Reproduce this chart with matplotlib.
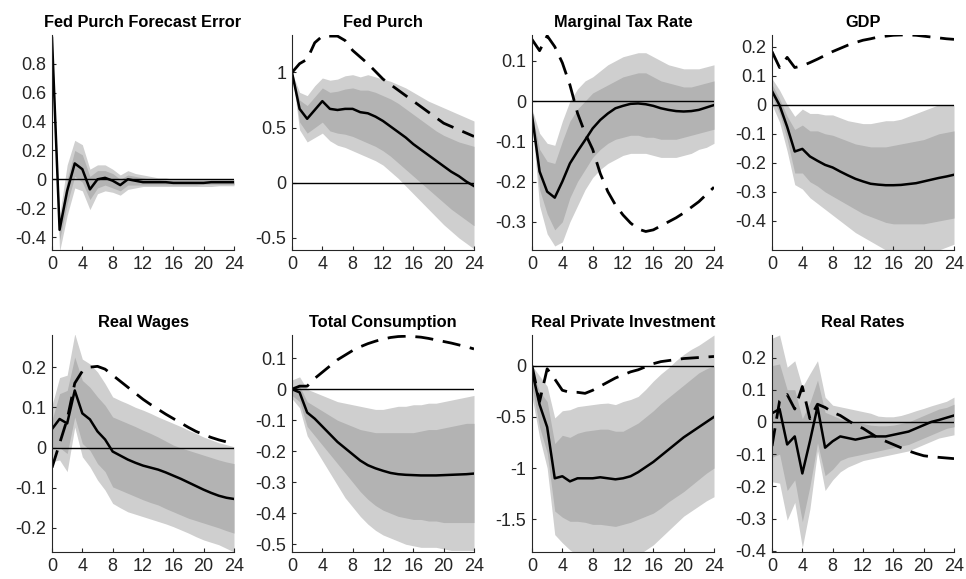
import numpy as np
import matplotlib
matplotlib.use("Agg")
import matplotlib.pyplot as plt
from matplotlib.ticker import FuncFormatter

plt.rcParams['font.family'] = ['Liberation Sans', 'DejaVu Sans']
plt.rcParams['axes.unicode_minus'] = False

horizon = list(range(25))
xticks = [0, 4, 8, 12, 16, 20, 24]

# Fed Purch Forecast Error
fe_med = [0.98, -0.35, -0.08, 0.11, 0.07, -0.07, 0.0, 0.01, -0.01, -0.04, 0.0, -0.01, -0.02,
          -0.02, -0.02, -0.02, -0.025, -0.025, -0.025, -0.025, -0.025, -0.02, -0.02, -0.02, -0.02]
fe_out_hi = [0.98, -0.25, 0.1, 0.27, 0.24, 0.07, 0.1, 0.1, 0.07, 0.03, 0.06, 0.04, 0.03,
             0.02, 0.01, 0.01, 0.0, 0.0, 0.0, 0.0, 0.0, 0.0, 0.0, 0.0, 0.0]
fe_in_hi = [0.98, -0.3, 0.0, 0.2, 0.17, 0.02, 0.06, 0.06, 0.04, 0.0, 0.03, 0.02, 0.01,
            0.0, 0.0, -0.01, -0.01, -0.01, -0.01, -0.01, -0.01, -0.01, -0.01, -0.01, -0.01]
fe_in_lo = [0.98, -0.42, -0.17, 0.02, -0.02, -0.14, -0.06, -0.04, -0.06, -0.08, -0.04, -0.04, -0.04,
            -0.04, -0.04, -0.04, -0.04, -0.04, -0.04, -0.04, -0.035, -0.035, -0.035, -0.035, -0.035]
fe_out_lo = [0.98, -0.5, -0.25, -0.06, -0.08, -0.21, -0.1, -0.08, -0.09, -0.11, -0.07, -0.06, -0.05,
             -0.05, -0.05, -0.05, -0.05, -0.05, -0.05, -0.05, -0.05, -0.05, -0.045, -0.045, -0.045]

# Fed Purch
g_med = [1.0, 0.67, 0.58, 0.66, 0.74, 0.67, 0.66, 0.67, 0.67, 0.64, 0.63, 0.60, 0.56,
         0.51, 0.46, 0.41, 0.35, 0.30, 0.25, 0.20, 0.15, 0.10, 0.06, 0.01, -0.03]
g_out_hi = [1.0, 0.82, 0.79, 0.88, 0.95, 0.93, 0.94, 0.97, 0.98, 0.96, 0.98, 0.96, 0.94,
            0.92, 0.89, 0.86, 0.82, 0.78, 0.74, 0.71, 0.68, 0.65, 0.62, 0.59, 0.56]
g_in_hi = [1.0, 0.75, 0.70, 0.78, 0.86, 0.82, 0.83, 0.85, 0.86, 0.84, 0.84, 0.82, 0.79,
           0.76, 0.72, 0.67, 0.62, 0.57, 0.52, 0.47, 0.43, 0.40, 0.37, 0.35, 0.33]
g_in_lo = [1.0, 0.55, 0.45, 0.50, 0.55, 0.47, 0.45, 0.44, 0.42, 0.39, 0.36, 0.33, 0.29,
           0.24, 0.18, 0.12, 0.06, 0.0, -0.06, -0.12, -0.18, -0.24, -0.29, -0.34, -0.39]
g_out_lo = [1.0, 0.48, 0.37, 0.41, 0.45, 0.38, 0.34, 0.32, 0.29, 0.26, 0.23, 0.20, 0.16,
            0.10, 0.04, -0.03, -0.10, -0.17, -0.24, -0.31, -0.38, -0.44, -0.50, -0.55, -0.60]
g_dash = [1.0, 1.08, 1.12, 1.27, 1.33, 1.33, 1.33, 1.29, 1.20, 1.14, 1.08, 1.01, 0.94,
          0.89, 0.84, 0.79, 0.74, 0.69, 0.64, 0.59, 0.54, 0.51, 0.48, 0.45, 0.42]

# Marginal Tax Rate
tax_med = [-0.035, -0.175, -0.225, -0.24, -0.20, -0.155, -0.125, -0.097, -0.068, -0.047, -0.031, -0.018, -0.012,
           -0.007, -0.006, -0.008, -0.012, -0.018, -0.022, -0.025, -0.026, -0.025, -0.022, -0.016, -0.01]
tax_out_hi = [-0.02, -0.08, -0.105, -0.11, -0.05, 0.0, 0.03, 0.05, 0.06, 0.075, 0.09, 0.10, 0.11,
              0.115, 0.12, 0.12, 0.11, 0.10, 0.09, 0.085, 0.08, 0.08, 0.08, 0.085, 0.09]
tax_in_hi = [-0.03, -0.12, -0.15, -0.155, -0.10, -0.05, -0.02, 0.0, 0.02, 0.03, 0.04, 0.05, 0.06,
             0.065, 0.07, 0.07, 0.06, 0.05, 0.045, 0.04, 0.035, 0.035, 0.04, 0.045, 0.05]
tax_in_lo = [-0.045, -0.22, -0.28, -0.32, -0.30, -0.24, -0.20, -0.17, -0.14, -0.12, -0.105, -0.095, -0.09,
             -0.085, -0.085, -0.09, -0.09, -0.095, -0.095, -0.095, -0.09, -0.085, -0.08, -0.075, -0.07]
tax_out_lo = [-0.05, -0.26, -0.33, -0.36, -0.35, -0.30, -0.26, -0.22, -0.19, -0.17, -0.155, -0.145, -0.135,
              -0.13, -0.13, -0.13, -0.135, -0.14, -0.14, -0.14, -0.135, -0.13, -0.12, -0.115, -0.105]
tax_dash = [0.153, 0.125, 0.162, 0.135, 0.095, 0.04, -0.03, -0.08, -0.12, -0.18, -0.225, -0.258, -0.283,
            -0.303, -0.318, -0.324, -0.32, -0.31, -0.3, -0.29, -0.278, -0.264, -0.25, -0.232, -0.214]

# GDP
gdp_med = [0.047, -0.002, -0.076, -0.161, -0.152, -0.178, -0.193, -0.207, -0.216, -0.23, -0.243, -0.255, -0.264,
           -0.272, -0.275, -0.277, -0.277, -0.276, -0.273, -0.27, -0.264, -0.258, -0.252, -0.247, -0.241]
gdp_out_hi = [0.09, 0.05, 0.0, -0.04, -0.015, -0.03, -0.03, -0.035, -0.035, -0.045, -0.055, -0.06, -0.065,
              -0.065, -0.06, -0.055, -0.055, -0.05, -0.04, -0.03, -0.02, -0.01, 0.0, 0.0, 0.0]
gdp_in_hi = [0.07, 0.02, -0.04, -0.085, -0.07, -0.09, -0.09, -0.10, -0.105, -0.115, -0.125, -0.135, -0.14,
             -0.145, -0.145, -0.145, -0.14, -0.135, -0.13, -0.125, -0.12, -0.11, -0.10, -0.095, -0.09]
gdp_in_lo = [0.03, -0.03, -0.12, -0.235, -0.235, -0.265, -0.28, -0.30, -0.315, -0.33, -0.345, -0.36, -0.375,
             -0.385, -0.395, -0.405, -0.41, -0.41, -0.41, -0.41, -0.41, -0.405, -0.40, -0.395, -0.39]
gdp_out_lo = [0.0, -0.06, -0.16, -0.275, -0.29, -0.32, -0.34, -0.36, -0.38, -0.40, -0.42, -0.44, -0.455,
              -0.47, -0.485, -0.5, -0.5, -0.5, -0.5, -0.5, -0.5, -0.5, -0.5, -0.49, -0.48]
gdp_dash = [0.183, 0.128, 0.163, 0.128, 0.134, 0.145, 0.157, 0.17, 0.183, 0.194, 0.205, 0.214, 0.222,
            0.227, 0.233, 0.236, 0.239, 0.24, 0.24, 0.239, 0.236, 0.233, 0.23, 0.227, 0.225]

# Real Wages
wage_med = [0.046, 0.071, 0.06, 0.142, 0.085, 0.07, 0.04, 0.02, -0.01, -0.02, -0.03, -0.038, -0.045,
            -0.05, -0.055, -0.062, -0.07, -0.078, -0.087, -0.096, -0.105, -0.113, -0.12, -0.125, -0.128]
wage_out_hi = [0.105, 0.174, 0.18, 0.283, 0.22, 0.208, 0.188, 0.159, 0.126, 0.117, 0.109, 0.10, 0.093,
               0.085, 0.076, 0.068, 0.06, 0.052, 0.043, 0.035, 0.026, 0.019, 0.012, 0.007, 0.002]
wage_in_hi = [0.068, 0.134, 0.142, 0.225, 0.167, 0.15, 0.126, 0.105, 0.076, 0.068, 0.06, 0.052, 0.043,
              0.035, 0.026, 0.016, 0.006, -0.001, -0.007, -0.013, -0.019, -0.025, -0.031, -0.036, -0.04]
wage_in_lo = [0.0, 0.0, -0.015, 0.076, 0.01, -0.007, -0.04, -0.06, -0.098, -0.106, -0.114, -0.122, -0.13,
              -0.137, -0.143, -0.152, -0.16, -0.168, -0.176, -0.182, -0.188, -0.194, -0.2, -0.207, -0.213]
wage_out_lo = [-0.035, -0.031, -0.06, 0.051, -0.023, -0.048, -0.081, -0.106, -0.139, -0.15, -0.16, -0.166, -0.172,
               -0.178, -0.184, -0.19, -0.197, -0.205, -0.213, -0.222, -0.23, -0.236, -0.242, -0.251, -0.26]
wage_dash = [-0.05, 0.01, 0.07, 0.16, 0.19, 0.2, 0.202, 0.195, 0.18, 0.165, 0.15, 0.135, 0.12,
             0.107, 0.095, 0.083, 0.072, 0.061, 0.05, 0.04, 0.032, 0.025, 0.019, 0.014, 0.01]

# Total Consumption
cons_med = [0.0, -0.01, -0.075, -0.095, -0.12, -0.145, -0.17, -0.19, -0.21, -0.23, -0.245, -0.255, -0.263,
            -0.27, -0.274, -0.276, -0.277, -0.278, -0.278, -0.278, -0.277, -0.276, -0.275, -0.274, -0.272]
cons_out_hi = [0.03, 0.04, 0.0, -0.01, -0.02, -0.03, -0.04, -0.045, -0.05, -0.055, -0.06, -0.065, -0.065,
               -0.06, -0.055, -0.055, -0.05, -0.05, -0.045, -0.045, -0.04, -0.035, -0.03, -0.025, -0.02]
cons_in_hi = [0.01, 0.01, -0.04, -0.055, -0.07, -0.085, -0.1, -0.11, -0.12, -0.13, -0.135, -0.14, -0.14,
              -0.14, -0.14, -0.14, -0.14, -0.135, -0.13, -0.13, -0.125, -0.12, -0.115, -0.11, -0.11]
cons_in_lo = [-0.02, -0.04, -0.12, -0.15, -0.18, -0.21, -0.24, -0.27, -0.3, -0.33, -0.355, -0.375, -0.39,
              -0.4, -0.41, -0.415, -0.42, -0.42, -0.425, -0.425, -0.43, -0.43, -0.43, -0.43, -0.43]
cons_out_lo = [-0.03, -0.06, -0.15, -0.19, -0.23, -0.27, -0.31, -0.35, -0.38, -0.41, -0.435, -0.455, -0.47,
               -0.48, -0.49, -0.5, -0.505, -0.51, -0.51, -0.51, -0.515, -0.52, -0.52, -0.52, -0.52]
cons_dash = [0.0, 0.01, 0.01, 0.035, 0.055, 0.075, 0.095, 0.11, 0.125, 0.137, 0.147, 0.155, 0.162,
             0.167, 0.17, 0.171, 0.17, 0.168, 0.164, 0.159, 0.154, 0.149, 0.143, 0.137, 0.13]

# Real Private Investment
inv_med = [-0.05, -0.38, -0.6, -1.1, -1.08, -1.13, -1.1, -1.1, -1.1, -1.09, -1.1, -1.11, -1.1,
           -1.08, -1.04, -0.99, -0.94, -0.88, -0.82, -0.76, -0.7, -0.65, -0.6, -0.55, -0.5]
inv_out_hi = [0.0, -0.1, -0.2, -0.51, -0.44, -0.43, -0.4, -0.39, -0.38, -0.37, -0.365, -0.38, -0.35,
              -0.33, -0.3, -0.23, -0.15, -0.08, -0.02, 0.05, 0.11, 0.16, 0.2, 0.25, 0.3]
inv_in_hi = [-0.05, -0.25, -0.35, -0.76, -0.68, -0.7, -0.66, -0.64, -0.63, -0.62, -0.62, -0.64, -0.64,
             -0.6, -0.56, -0.5, -0.44, -0.37, -0.31, -0.25, -0.19, -0.13, -0.07, -0.03, 0.0]
inv_in_lo = [-0.2, -0.6, -0.85, -1.42, -1.48, -1.52, -1.52, -1.53, -1.55, -1.55, -1.56, -1.57, -1.55,
             -1.53, -1.5, -1.47, -1.44, -1.39, -1.33, -1.28, -1.23, -1.17, -1.11, -1.05, -1.0]
inv_out_lo = [-0.3, -0.7, -1.0, -1.65, -1.73, -1.8, -1.85, -1.85, -1.85, -1.85, -1.85, -1.85, -1.85,
              -1.85, -1.85, -1.8, -1.75, -1.68, -1.61, -1.54, -1.47, -1.42, -1.37, -1.32, -1.28]
inv_dash = [0.0, -0.35, -0.03, -0.13, -0.24, -0.26, -0.26, -0.27, -0.24, -0.2, -0.16, -0.12, -0.09,
            -0.06, -0.04, -0.01, 0.02, 0.04, 0.05, 0.06, 0.07, 0.075, 0.08, 0.085, 0.09]

# Real Rates
rate_med = [0.027, 0.04, -0.07, -0.045, -0.16, -0.06, 0.047, -0.08, -0.06, -0.045, -0.05, -0.055, -0.05,
            -0.045, -0.045, -0.045, -0.04, -0.035, -0.03, -0.02, -0.01, 0.0, 0.006, 0.013, 0.02]
rate_out_hi = [0.26, 0.27, 0.17, 0.19, 0.108, 0.15, 0.19, 0.077, 0.052, 0.047, 0.042, 0.037, 0.032,
               0.027, 0.018, 0.016, 0.016, 0.02, 0.027, 0.035, 0.042, 0.05, 0.057, 0.064, 0.077]
rate_in_hi = [0.175, 0.18, 0.1, 0.1, 0.01, 0.06, 0.13, 0.03, 0.02, 0.01, 0.005, 0.0, -0.005,
              -0.01, -0.012, -0.012, -0.01, -0.005, 0.0, 0.01, 0.02, 0.03, 0.04, 0.045, 0.055]
rate_in_lo = [-0.11, -0.1, -0.213, -0.18, -0.31, -0.2, -0.065, -0.167, -0.147, -0.12, -0.11, -0.105, -0.1,
              -0.095, -0.09, -0.085, -0.08, -0.075, -0.07, -0.06, -0.05, -0.04, -0.03, -0.02, -0.015]
rate_out_lo = [-0.186, -0.19, -0.305, -0.25, -0.39, -0.27, -0.09, -0.213, -0.18, -0.155, -0.14, -0.13, -0.12,
               -0.115, -0.11, -0.105, -0.1, -0.095, -0.09, -0.08, -0.07, -0.06, -0.05, -0.045, -0.04]
rate_dash = [-0.075, 0.065, 0.085, 0.04, 0.11, 0.01, 0.055, 0.045, 0.03, 0.02, 0.005, -0.01, -0.02,
             -0.035, -0.05, -0.06, -0.07, -0.08, -0.09, -0.098, -0.105, -0.108, -0.11, -0.112, -0.114]

OUTER = '#cfcfcf'
INNER = '#b3b3b3'
AXCOL = '#262626'


def draw_panel(ax, title, med, in_lo, in_hi, out_lo, out_hi, dash, ylim, yticks):
    ax.fill_between(horizon, out_lo, out_hi, color=OUTER, linewidth=0)
    ax.fill_between(horizon, in_lo, in_hi, color=INNER, linewidth=0)
    ax.axhline(0, color='black', linewidth=1.0)
    ax.plot(horizon, med, color='black', linewidth=1.8)
    if dash is not None:
        ax.plot(horizon, dash, color='black', linewidth=2.0, linestyle=(0, (6.5, 3.5)))
    ax.set_xlim(0, 24)
    ax.set_ylim(*ylim)
    ax.set_xticks(xticks)
    ax.set_yticks(yticks)
    ax.yaxis.set_major_formatter(FuncFormatter(lambda v, p: '%g' % round(v, 6)))
    ax.spines['top'].set_visible(False)
    ax.spines['right'].set_visible(False)
    for s in ('left', 'bottom'):
        ax.spines[s].set_color(AXCOL)
        ax.spines[s].set_linewidth(0.8)
    ax.tick_params(direction='in', length=3, width=0.8, colors=AXCOL, labelsize=13, pad=4)
    ax.set_title(title, fontsize=11.8, fontweight='bold', pad=6)


fig = plt.figure(figsize=(9.66, 5.79), dpi=100)
W, H = 966.0, 579.0
lefts = [52, 292, 532, 772]
aw = 182
row_top = [35, 335]
row_bot = [250, 552]


def rect(col, row):
    return [lefts[col] / W, 1 - row_bot[row] / H, aw / W, (row_bot[row] - row_top[row]) / H]


ax = fig.add_axes(rect(0, 0))
draw_panel(ax, 'Fed Purch Forecast Error', fe_med, fe_in_lo, fe_in_hi, fe_out_lo, fe_out_hi, None,
           (-0.49, 1.0), [-0.4, -0.2, 0, 0.2, 0.4, 0.6, 0.8])
ax = fig.add_axes(rect(1, 0))
draw_panel(ax, 'Fed Purch', g_med, g_in_lo, g_in_hi, g_out_lo, g_out_hi, g_dash,
           (-0.61, 1.34), [-0.5, 0, 0.5, 1])
ax = fig.add_axes(rect(2, 0))
draw_panel(ax, 'Marginal Tax Rate', tax_med, tax_in_lo, tax_in_hi, tax_out_lo, tax_out_hi, tax_dash,
           (-0.37, 0.164), [-0.3, -0.2, -0.1, 0, 0.1])
ax = fig.add_axes(rect(3, 0))
draw_panel(ax, 'GDP', gdp_med, gdp_in_lo, gdp_in_hi, gdp_out_lo, gdp_out_hi, gdp_dash,
           (-0.5, 0.24), [-0.4, -0.3, -0.2, -0.1, 0, 0.1, 0.2])
ax = fig.add_axes(rect(0, 1))
draw_panel(ax, 'Real Wages', wage_med, wage_in_lo, wage_in_hi, wage_out_lo, wage_out_hi, wage_dash,
           (-0.26, 0.28), [-0.2, -0.1, 0, 0.1, 0.2])
ax = fig.add_axes(rect(1, 1))
draw_panel(ax, 'Total Consumption', cons_med, cons_in_lo, cons_in_hi, cons_out_lo, cons_out_hi, cons_dash,
           (-0.525, 0.175), [-0.5, -0.4, -0.3, -0.2, -0.1, 0, 0.1])
ax = fig.add_axes(rect(2, 1))
draw_panel(ax, 'Real Private Investment', inv_med, inv_in_lo, inv_in_hi, inv_out_lo, inv_out_hi, inv_dash,
           (-1.82, 0.30), [-1.5, -1, -0.5, 0])
ax = fig.add_axes(rect(3, 1))
draw_panel(ax, 'Real Rates', rate_med, rate_in_lo, rate_in_hi, rate_out_lo, rate_out_hi, rate_dash,
           (-0.404, 0.27), [-0.4, -0.3, -0.2, -0.1, 0, 0.1, 0.2])

plt.savefig('out.png', dpi=100)
